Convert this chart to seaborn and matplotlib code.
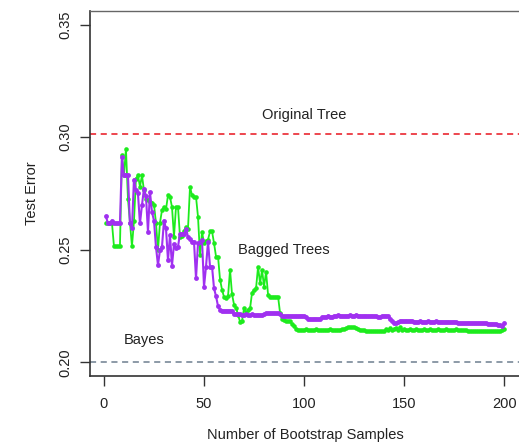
import matplotlib
matplotlib.use("Agg")
import matplotlib.pyplot as plt
import seaborn as sns
import pandas as pd

# Number of bootstrap samples (bagged trees 1..200)
n_samples = list(range(1, 201))

# Test error of bagged trees, consensus vote
consensus_error = [
    0.2620, 0.2620, 0.2620, 0.2620, 0.2517, 0.2517, 0.2517, 0.2517, 0.2919, 0.2830,
    0.2949, 0.2727, 0.2620, 0.2516, 0.2626, 0.2816, 0.2831, 0.2780, 0.2831, 0.2764,
    0.2727, 0.2720, 0.2712, 0.2710, 0.2700, 0.2620, 0.2499, 0.2620, 0.2676, 0.2690,
    0.2680, 0.2742, 0.2735, 0.2690, 0.2558, 0.2690, 0.2690, 0.2558, 0.2560, 0.2584,
    0.2600, 0.2594, 0.2779, 0.2743, 0.2735, 0.2735, 0.2646, 0.2477, 0.2580, 0.2530,
    0.2538, 0.2545, 0.2582, 0.2582, 0.2530, 0.2470, 0.2470, 0.2368, 0.2323, 0.2290,
    0.2287, 0.2294, 0.2412, 0.2302, 0.2257, 0.2243, 0.2211, 0.2181, 0.2185, 0.2240,
    0.2219, 0.2235, 0.2240, 0.2310, 0.2322, 0.2330, 0.2425, 0.2351, 0.2410, 0.2337,
    0.2403, 0.2300, 0.2292, 0.2292, 0.2292, 0.2292, 0.2292, 0.2219, 0.2195, 0.2190,
    0.2182, 0.2182, 0.2182, 0.2170, 0.2160, 0.2150, 0.2145, 0.2145, 0.2145, 0.2145,
    0.2148, 0.2145, 0.2145, 0.2145, 0.2145, 0.2148, 0.2145, 0.2145, 0.2145, 0.2145,
    0.2145, 0.2145, 0.2148, 0.2145, 0.2145, 0.2145, 0.2145, 0.2145, 0.2148, 0.2150,
    0.2152, 0.2157, 0.2157, 0.2157, 0.2157, 0.2155, 0.2148, 0.2145, 0.2145, 0.2142,
    0.2138, 0.2138, 0.2138, 0.2138, 0.2138, 0.2140, 0.2138, 0.2138, 0.2138, 0.2140,
    0.2148, 0.2145, 0.2152, 0.2145, 0.2150, 0.2155, 0.2145, 0.2157, 0.2145, 0.2150,
    0.2145, 0.2145, 0.2148, 0.2145, 0.2145, 0.2148, 0.2145, 0.2145, 0.2145, 0.2148,
    0.2145, 0.2145, 0.2148, 0.2145, 0.2145, 0.2145, 0.2148, 0.2145, 0.2145, 0.2145,
    0.2148, 0.2145, 0.2145, 0.2145, 0.2145, 0.2148, 0.2145, 0.2145, 0.2145, 0.2142,
    0.2142, 0.2140, 0.2140, 0.2140, 0.2140, 0.2138, 0.2138, 0.2138, 0.2138, 0.2138,
    0.2138, 0.2138, 0.2138, 0.2138, 0.2140, 0.2138, 0.2138, 0.2140, 0.2145, 0.2150,
]

# Test error of bagged trees, averaged probabilities
probability_error = [
    0.2649, 0.2617, 0.2617, 0.2630, 0.2617, 0.2617, 0.2617, 0.2617, 0.2912, 0.2830,
    0.2830, 0.2830, 0.2617, 0.2595, 0.2812, 0.2764, 0.2750, 0.2617, 0.2698, 0.2772,
    0.2740, 0.2580, 0.2757, 0.2668, 0.2630, 0.2513, 0.2432, 0.2499, 0.2513, 0.2630,
    0.2595, 0.2454, 0.2565, 0.2430, 0.2525, 0.2506, 0.2513, 0.2572, 0.2572, 0.2572,
    0.2594, 0.2558, 0.2550, 0.2536, 0.2536, 0.2373, 0.2530, 0.2536, 0.2543, 0.2336,
    0.2426, 0.2536, 0.2426, 0.2426, 0.2329, 0.2294, 0.2250, 0.2235, 0.2230, 0.2230,
    0.2230, 0.2230, 0.2230, 0.2228, 0.2215, 0.2213, 0.2213, 0.2213, 0.2210, 0.2210,
    0.2213, 0.2210, 0.2210, 0.2213, 0.2210, 0.2210, 0.2212, 0.2210, 0.2210, 0.2213,
    0.2219, 0.2219, 0.2219, 0.2219, 0.2220, 0.2219, 0.2219, 0.2215, 0.2205, 0.2205,
    0.2205, 0.2207, 0.2205, 0.2205, 0.2205, 0.2207, 0.2205, 0.2207, 0.2207, 0.2205,
    0.2200, 0.2194, 0.2194, 0.2192, 0.2194, 0.2194, 0.2192, 0.2194, 0.2200, 0.2200,
    0.2202, 0.2208, 0.2200, 0.2204, 0.2207, 0.2207, 0.2209, 0.2207, 0.2207, 0.2205,
    0.2207, 0.2207, 0.2209, 0.2207, 0.2207, 0.2212, 0.2207, 0.2207, 0.2205, 0.2207,
    0.2207, 0.2205, 0.2205, 0.2207, 0.2205, 0.2205, 0.2203, 0.2200, 0.2205, 0.2207,
    0.2207, 0.2205, 0.2195, 0.2185, 0.2176, 0.2174, 0.2180, 0.2185, 0.2185, 0.2183,
    0.2185, 0.2183, 0.2185, 0.2185, 0.2180, 0.2181, 0.2181, 0.2183, 0.2181, 0.2181,
    0.2181, 0.2183, 0.2181, 0.2181, 0.2181, 0.2183, 0.2181, 0.2181, 0.2181, 0.2180,
    0.2181, 0.2181, 0.2180, 0.2180, 0.2181, 0.2178, 0.2176, 0.2175, 0.2175, 0.2175,
    0.2175, 0.2176, 0.2175, 0.2175, 0.2174, 0.2175, 0.2174, 0.2174, 0.2175, 0.2174,
    0.2174, 0.2173, 0.2172, 0.2172, 0.2170, 0.2170, 0.2168, 0.2165, 0.2162, 0.2174,
]

# Reference error levels
original_tree_error = 0.3016
bayes_error = 0.20

x_ticks = [0, 50, 100, 150, 200]
y_ticks = [0.20, 0.25, 0.30, 0.35]

sns.set_style("white")
plt.rcParams["font.family"] = ["Liberation Sans", "DejaVu Sans"]

df = pd.DataFrame({
    "n": n_samples,
    "consensus": consensus_error,
    "probability": probability_error,
})

W, H = 519, 448
fig = plt.figure(figsize=(W / 100, H / 100), dpi=100)
ax = fig.add_axes([90 / W, 72 / H, 430.2 / W, 365 / H])

sns.lineplot(data=df, x="n", y="consensus", ax=ax, color="#1DEB1D",
             linewidth=1.3, marker="o", markersize=3.3, markeredgewidth=0)
sns.lineplot(data=df, x="n", y="probability", ax=ax, color="#A030F0",
             linewidth=1.5, marker="o", markersize=3.5, markeredgewidth=0)

ax.axhline(original_tree_error, color="#E8141E", linestyle=(0, (4, 3)), linewidth=1.1)
ax.axhline(bayes_error, color="#6E7E90", linestyle=(0, (4, 3)), linewidth=1.1)

ax.text(100, 0.3100, "Original Tree", ha="center", va="center", fontsize=10.5, color="#222222")
ax.text(90, 0.2500, "Bagged Trees", ha="center", va="center", fontsize=10.5, color="#222222")
ax.text(20, 0.2100, "Bayes", ha="center", va="center", fontsize=10.5, color="#222222")

ax.set_xlim(-6.96, 207.96)
ax.set_ylim(0.194, 0.356)
ax.set_xticks(x_ticks)
ax.set_xticklabels([str(v) for v in x_ticks])
ax.set_yticks(y_ticks)
ax.set_yticklabels([f"{v:.2f}" for v in y_ticks], rotation=90, va="center")

ax.tick_params(axis="both", direction="out", length=7, width=1, color="#333333",
               labelsize=10.5, labelcolor="#222222", bottom=True, left=True)
ax.tick_params(axis="x", pad=8)
ax.tick_params(axis="y", pad=6)

ax.set_xlabel("Number of Bootstrap Samples", fontsize=10.5, color="#222222", labelpad=12)
ax.set_ylabel("Test Error", fontsize=10.5, color="#222222", labelpad=14)

for side in ["left", "bottom"]:
    ax.spines[side].set_color("#333333")
    ax.spines[side].set_linewidth(1.2)
ax.spines["top"].set_color("#666666")
ax.spines["top"].set_linewidth(1.0)
ax.spines["right"].set_visible(False)
ax.grid(False)

fig.savefig("out.png", dpi=100)
